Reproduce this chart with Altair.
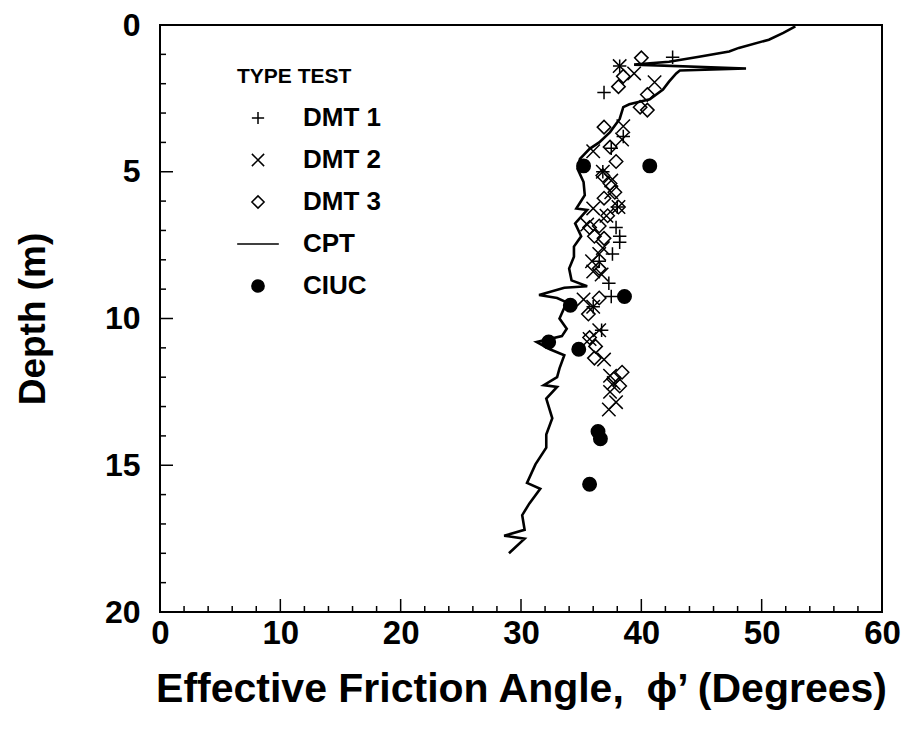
import altair as alt
import pandas as pd

# ---------------- data ----------------
cpt_phi = [52.8, 51.8, 50.6, 48.1, 47.3, 44.8, 42.3, 39.4, 48.7, 43.2, 42.9, 42.3, 41.8, 40.7, 39.0,
           38.5, 38.2, 37.4, 36.5, 35.7, 34.9, 34.7, 35.2, 35.3, 34.6, 35.5, 34.5, 35.0, 34.4, 34.4,
           34.0, 34.2, 35.5, 33.6, 31.5, 33.0, 33.8, 33.2, 33.8, 33.4, 31.3, 32.4, 33.6, 33.2, 33.0,
           31.9, 33.0, 32.1, 32.6, 32.1, 32.1, 31.2, 30.5, 31.6, 30.7, 30.1, 30.3, 28.6, 30.3, 29.0]
cpt_depth = [0.05, 0.27, 0.5, 0.78, 0.9, 1.08, 1.25, 1.35, 1.48, 1.55, 1.65, 1.93, 2.2, 2.53, 2.7,
             2.8, 3.2, 3.65, 4.0, 4.22, 4.56, 4.9, 5.35, 5.8, 6.25, 6.3, 6.76, 7.2, 7.55, 7.9,
             8.3, 8.7, 8.9, 8.95, 9.2, 9.3, 9.45, 10.0, 10.35, 10.6, 10.8, 11.05, 11.25, 11.7, 12.0,
             12.27, 12.33, 12.73, 13.4, 13.95, 14.4, 14.97, 15.6, 15.8, 16.3, 16.7, 17.2, 17.4, 17.5, 18.0]

dmt1_phi = [42.6, 38.2, 36.9, 38.5, 37.5, 36.8, 38.0, 37.9, 38.2, 38.2, 37.6, 36.5, 37.3, 37.5, 36.0, 36.7]
dmt1_depth = [1.1, 1.4, 2.3, 3.8, 4.2, 5.0, 6.2, 6.9, 7.2, 7.4, 7.8, 8.05, 8.8, 9.25, 9.6, 10.4]

dmt2_phi = [38.2, 39.4, 41.1, 38.5, 38.4, 36.0, 36.8, 37.5, 37.5, 36.0, 38.1, 35.5, 37.1, 36.8,
            36.5, 35.9, 36.0, 36.7, 35.2, 36.0, 36.5, 35.7, 36.9, 37.4, 37.7, 37.4, 37.9, 37.3]
dmt2_depth = [1.4, 1.65, 1.95, 3.45, 3.9, 4.3, 5.0, 5.3, 5.7, 6.25, 6.2, 6.8, 6.5, 7.6,
              7.8, 8.05, 8.4, 8.5, 9.35, 9.6, 10.4, 10.7, 11.4, 11.95, 12.2, 12.5, 12.85, 13.1]

dmt3_phi = [40.0, 38.5, 38.1, 40.5, 39.9, 40.5, 36.9, 37.4, 37.9, 36.8, 37.4, 37.8, 36.9, 38.1,
            37.2, 36.5, 35.7, 36.1, 36.9, 36.5, 36.5, 35.6, 35.7, 36.2, 36.1, 38.4, 37.7, 38.2]
dmt3_depth = [1.12, 1.75, 2.1, 2.37, 2.8, 2.9, 3.48, 4.16, 4.65, 5.13, 5.4, 5.7, 5.9, 6.2,
              6.5, 6.85, 6.9, 7.2, 7.27, 8.3, 9.3, 9.85, 10.65, 10.95, 11.35, 11.83, 12.06, 12.3]

ciuc_phi = [35.2, 40.7, 38.6, 34.1, 32.3, 34.8, 36.4, 36.6, 35.7]
ciuc_depth = [4.8, 4.8, 9.25, 9.55, 10.8, 11.05, 13.85, 14.1, 15.65]

type_order = ["DMT 1", "DMT 2", "DMT 3", "CPT", "CIUC"]

x_major = [0, 10, 20, 30, 40, 50, 60]
x_minor = [2, 4, 6, 8, 12, 14, 16, 18, 22, 24, 26, 28, 32, 34, 36, 38, 42, 44, 46, 48, 52, 54, 56, 58]
y_major = [0, 5, 10, 15, 20]
y_minor = [1, 2, 3, 4, 6, 7, 8, 9, 11, 12, 13, 14, 16, 17, 18, 19]

# ---------------- tables ----------------
rows = []
for name, ph, dp in [("DMT 1", dmt1_phi, dmt1_depth), ("DMT 2", dmt2_phi, dmt2_depth),
                     ("DMT 3", dmt3_phi, dmt3_depth), ("CIUC", ciuc_phi, ciuc_depth)]:
    for a, b in zip(ph, dp):
        rows.append({"phi": a, "depth": b, "type": name})
pts = pd.DataFrame(rows)
cpt = pd.DataFrame({"phi": cpt_phi, "depth": cpt_depth, "idx": list(range(len(cpt_phi)))})

W, H = 722, 587
FONT = "Liberation Sans"

xs = alt.Scale(domain=[0, 60], nice=False, zero=False)
ys = alt.Scale(domain=[0, 20], reverse=True, nice=False, zero=False)
x_axis = alt.Axis(values=x_major, title="Effective Friction Angle,\u00a0 ϕ’ (Degrees)", labelFlush=False)
y_axis = alt.Axis(values=y_major, title="Depth (m)", labelFlush=False)

PLUS = "M-1,0L1,0M0,-1L0,1"
CROSS = "M-1,-1L1,1M-1,1L1,-1"
LINE = "M-3.4,0L3.4,0"

legend = alt.Legend(
    title="TYPE TEST", orient="none", legendX=77, legendY=41,
    titleFont=FONT, titleFontSize=21, titleFontWeight="bold", titleColor="black", titlePadding=18,
    labelFont=FONT, labelFontSize=26, labelFontWeight="bold", labelColor="black",
    symbolSize=150, symbolStrokeWidth=1.5, symbolStrokeColor="black",
    symbolOffset=8, labelOffset=32, rowPadding=16,
)

points = alt.Chart(pts).mark_point(strokeWidth=1.5, opacity=1, size=180).encode(
    x=alt.X("phi:Q", scale=xs, axis=x_axis),
    y=alt.Y("depth:Q", scale=ys, axis=y_axis),
    shape=alt.Shape("type:N", scale=alt.Scale(domain=type_order, range=[PLUS, CROSS, "diamond", LINE, "circle"]),
                    legend=legend),
    fill=alt.Fill("type:N", scale=alt.Scale(domain=type_order,
                                            range=["transparent", "transparent", "transparent", "transparent", "black"]),
                  legend=legend),
    stroke=alt.Stroke("type:N", scale=alt.Scale(domain=type_order,
                                                range=["black", "black", "black", "black", "black"]),
                      legend=legend),
)

line = alt.Chart(cpt).mark_line(color="black", strokeWidth=2.6).encode(
    x=alt.X("phi:Q", scale=xs, axis=x_axis),
    y=alt.Y("depth:Q", scale=ys, axis=y_axis),
    order="idx:Q",
)

def xticks(vals, ln):
    return alt.Chart(pd.DataFrame({"phi": vals})).mark_rule(color="black", strokeWidth=1.5).encode(
        x=alt.X("phi:Q", scale=xs, axis=x_axis), y=alt.value(H), y2=alt.value(H - ln))

def yticks(vals, ln):
    return alt.Chart(pd.DataFrame({"depth": vals})).mark_rule(color="black", strokeWidth=1.5).encode(
        y=alt.Y("depth:Q", scale=ys, axis=y_axis), x=alt.value(0), x2=alt.value(ln))

chart = alt.layer(
    points, line,
    xticks(x_major, 13), xticks(x_minor, 6), yticks(y_major, 13), yticks(y_minor, 6),
).properties(
    width=W, height=H,
    autosize=alt.AutoSizeParams(type="none"),
    padding={"left": 152, "top": 17, "right": 19, "bottom": 121},
).configure_view(
    stroke="black", strokeWidth=2,
).configure_axis(
    domain=False, ticks=False, grid=False,
    labelFont=FONT, labelFontSize=33, labelFontWeight="bold", labelColor="black",
    titleFont=FONT, titleFontWeight="bold", titleColor="black",
).configure_axisX(
    labelPadding=5, titleFontSize=41, titlePadding=19,
).configure_axisY(
    labelFontSize=32, labelPadding=20, titleFontSize=37, titlePadding=52,
)

chart.save("out.html", embed_options={"renderer": "svg", "actions": False})
